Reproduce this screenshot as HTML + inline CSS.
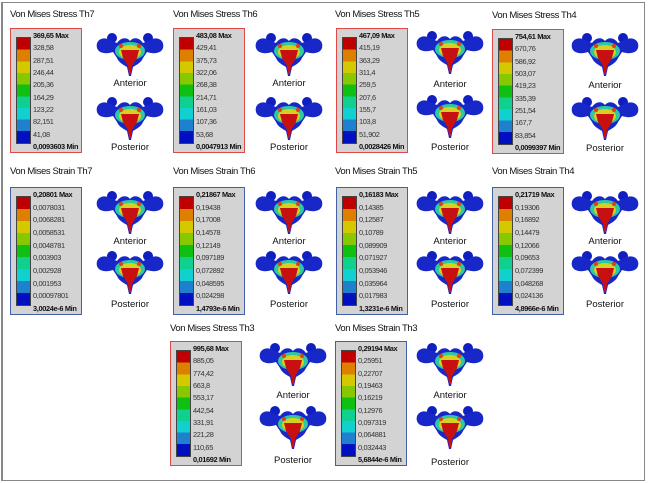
<!DOCTYPE html>
<html><head><meta charset="utf-8"><style>
body{margin:0;width:650px;height:483px;background:#fff;position:relative;overflow:hidden;font-family:"Liberation Sans",sans-serif}
.frame{position:absolute;left:1px;top:2px;width:641px;height:477px;border:1px solid #888;border-left-width:2px}
.t{position:absolute;font-size:9.5px;color:#111;letter-spacing:-0.4px;white-space:nowrap}
.lg{position:absolute;width:70px;background:#d3d3d3;border:1.5px solid #e04848}
.lg.b{border-color:#4060a8}
.bar{position:absolute;left:5px;top:8px;bottom:8px;width:13px;border:1px solid #444;background:linear-gradient(#c00000 0 11.1%,#dd8000 11.1% 22.2%,#d4c800 22.2% 33.3%,#88c800 33.3% 44.4%,#10c010 44.4% 55.5%,#10d090 55.5% 66.6%,#10d0d0 66.6% 77.7%,#2080d0 77.7% 88.8%,#0010c0 88.8%)}
.labs{position:absolute;left:22px;top:2px;bottom:1px;display:flex;flex-direction:column;justify-content:space-between;font-size:7.4px;color:#333;white-space:nowrap;letter-spacing:-0.35px}
.labs b{color:#111}
.im{position:absolute;width:70px;height:45px}
.lb{position:absolute;font-size:9.5px;color:#111;width:80px;text-align:center}
</style></head><body>
<svg width="0" height="0" style="position:absolute"><defs>
<symbol id="v" viewBox="0 0 70 45">
<circle cx="17" cy="6" r="5" fill="#1020c0"/><circle cx="53" cy="6" r="5" fill="#1020c0"/>
<path d="M2,16 C0,8 8,4 15,8 L22,11 C26,5 32,5 35,9 C38,5 44,5 48,11 L55,8 C62,4 70,8 68,16 C66,22 58,22 52,20 L48,26 C46,31 41,33 38,35 L36,44 L34,44 L32,35 C29,33 24,31 22,26 L18,20 C12,22 4,22 2,16Z" fill="#1828c8"/>
<ellipse cx="35" cy="19" rx="15" ry="9" fill="#30c8a0"/>
<ellipse cx="35" cy="20" rx="11" ry="7" fill="#d8d020"/>
<path d="M26,18 L44,18 L42,26 L37,34 L36,42 L34,42 L33,34 L28,26Z" fill="#c81010"/>
<circle cx="26" cy="14" r="2" fill="#e04010"/><circle cx="44" cy="14" r="2" fill="#e04010"/>
</symbol></defs></svg>
<div class="frame"></div>

<div class="t" style="left:10px;top:9px">Von Mises Stress Th7</div>
<div class="t" style="left:173px;top:9px">Von Mises Stress Th6</div>
<div class="t" style="left:335px;top:9px">Von Mises Stress Th5</div>
<div class="t" style="left:492px;top:10px">Von Mises Stress Th4</div>
<div class="t" style="left:10px;top:166px">Von Mises Strain Th7</div>
<div class="t" style="left:173px;top:166px">Von Mises Strain Th6</div>
<div class="t" style="left:335px;top:166px">Von Mises Strain Th5</div>
<div class="t" style="left:492px;top:166px">Von Mises Strain Th4</div>
<div class="t" style="left:170px;top:323px">Von Mises Stress Th3</div>
<div class="t" style="left:335px;top:323px">Von Mises Strain Th3</div>

<div class="lg" style="left:10px;top:28px;height:123px"><div class="bar"></div><div class="labs"><b>369,65 Max</b><span>328,58</span><span>287,51</span><span>246,44</span><span>205,36</span><span>164,29</span><span>123,22</span><span>82,151</span><span>41,08</span><b>0,0093603 Min</b></div></div>
<div class="lg" style="left:173px;top:28px;height:123px"><div class="bar"></div><div class="labs"><b>483,08 Max</b><span>429,41</span><span>375,73</span><span>322,06</span><span>268,38</span><span>214,71</span><span>161,03</span><span>107,36</span><span>53,68</span><b>0,0047913 Min</b></div></div>
<div class="lg" style="left:336px;top:28px;height:123px"><div class="bar"></div><div class="labs"><b>467,09 Max</b><span>415,19</span><span>363,29</span><span>311,4</span><span>259,5</span><span>207,6</span><span>155,7</span><span>103,8</span><span>51,902</span><b>0,0028426 Min</b></div></div>
<div class="lg" style="left:492px;top:29px;height:123px"><div class="bar"></div><div class="labs"><b>754,61 Max</b><span>670,76</span><span>586,92</span><span>503,07</span><span>419,23</span><span>335,39</span><span>251,54</span><span>167,7</span><span>83,854</span><b>0,0099397 Min</b></div></div>

<div class="lg b" style="left:10px;top:187px;height:126px"><div class="bar"></div><div class="labs"><b>0,20801 Max</b><span>0,0078031</span><span>0,0068281</span><span>0,0058531</span><span>0,0048781</span><span>0,003903</span><span>0,002928</span><span>0,001953</span><span>0,00097801</span><b>3,0024e-6 Min</b></div></div>
<div class="lg b" style="left:173px;top:187px;height:126px"><div class="bar"></div><div class="labs"><b>0,21867 Max</b><span>0,19438</span><span>0,17008</span><span>0,14578</span><span>0,12149</span><span>0,097189</span><span>0,072892</span><span>0,048595</span><span>0,024298</span><b>1,4793e-6 Min</b></div></div>
<div class="lg b" style="left:336px;top:187px;height:126px"><div class="bar"></div><div class="labs"><b>0,16183 Max</b><span>0,14385</span><span>0,12587</span><span>0,10789</span><span>0,089909</span><span>0,071927</span><span>0,053946</span><span>0,035964</span><span>0,017983</span><b>1,3231e-6 Min</b></div></div>
<div class="lg b" style="left:492px;top:187px;height:126px"><div class="bar"></div><div class="labs"><b>0,21719 Max</b><span>0,19306</span><span>0,16892</span><span>0,14479</span><span>0,12066</span><span>0,09653</span><span>0,072399</span><span>0,048268</span><span>0,024136</span><b>4,8966e-6 Min</b></div></div>

<div class="lg" style="left:170px;top:341px;height:123px"><div class="bar"></div><div class="labs"><b>995,68 Max</b><span>885,05</span><span>774,42</span><span>663,8</span><span>553,17</span><span>442,54</span><span>331,91</span><span>221,28</span><span>110,65</span><b>0,01692 Min</b></div></div>
<div class="lg b" style="left:335px;top:341px;height:123px"><div class="bar"></div><div class="labs"><b>0,29194 Max</b><span>0,25951</span><span>0,22707</span><span>0,19463</span><span>0,16219</span><span>0,12976</span><span>0,097319</span><span>0,064881</span><span>0,032443</span><b>5,6844e-6 Min</b></div></div>

<svg class="im" style="left:95px;top:32px"><use href="#v"/></svg>
<div class="lb" style="left:90px;top:78px">Anterior</div>
<svg class="im" style="left:95px;top:96px"><use href="#v"/></svg>
<div class="lb" style="left:90px;top:142px">Posterior</div>
<svg class="im" style="left:254px;top:32px"><use href="#v"/></svg>
<div class="lb" style="left:249px;top:78px">Anterior</div>
<svg class="im" style="left:254px;top:96px"><use href="#v"/></svg>
<div class="lb" style="left:249px;top:142px">Posterior</div>
<svg class="im" style="left:415px;top:30px"><use href="#v"/></svg>
<div class="lb" style="left:410px;top:79px">Anterior</div>
<svg class="im" style="left:415px;top:94px"><use href="#v"/></svg>
<div class="lb" style="left:410px;top:142px">Posterior</div>
<svg class="im" style="left:570px;top:32px"><use href="#v"/></svg>
<div class="lb" style="left:565px;top:80px">Anterior</div>
<svg class="im" style="left:570px;top:96px"><use href="#v"/></svg>
<div class="lb" style="left:565px;top:143px">Posterior</div>

<svg class="im" style="left:95px;top:190px"><use href="#v"/></svg>
<div class="lb" style="left:90px;top:236px">Anterior</div>
<svg class="im" style="left:95px;top:250px"><use href="#v"/></svg>
<div class="lb" style="left:90px;top:299px">Posterior</div>
<svg class="im" style="left:254px;top:190px"><use href="#v"/></svg>
<div class="lb" style="left:249px;top:236px">Anterior</div>
<svg class="im" style="left:254px;top:250px"><use href="#v"/></svg>
<div class="lb" style="left:249px;top:299px">Posterior</div>
<svg class="im" style="left:415px;top:190px"><use href="#v"/></svg>
<div class="lb" style="left:410px;top:236px">Anterior</div>
<svg class="im" style="left:415px;top:250px"><use href="#v"/></svg>
<div class="lb" style="left:410px;top:299px">Posterior</div>
<svg class="im" style="left:570px;top:190px"><use href="#v"/></svg>
<div class="lb" style="left:565px;top:236px">Anterior</div>
<svg class="im" style="left:570px;top:250px"><use href="#v"/></svg>
<div class="lb" style="left:565px;top:299px">Posterior</div>

<svg class="im" style="left:258px;top:342px"><use href="#v"/></svg>
<div class="lb" style="left:253px;top:390px">Anterior</div>
<svg class="im" style="left:258px;top:405px"><use href="#v"/></svg>
<div class="lb" style="left:253px;top:455px">Posterior</div>
<svg class="im" style="left:415px;top:342px"><use href="#v"/></svg>
<div class="lb" style="left:410px;top:390px">Anterior</div>
<svg class="im" style="left:415px;top:405px"><use href="#v"/></svg>
<div class="lb" style="left:410px;top:457px">Posterior</div>
</body></html>
